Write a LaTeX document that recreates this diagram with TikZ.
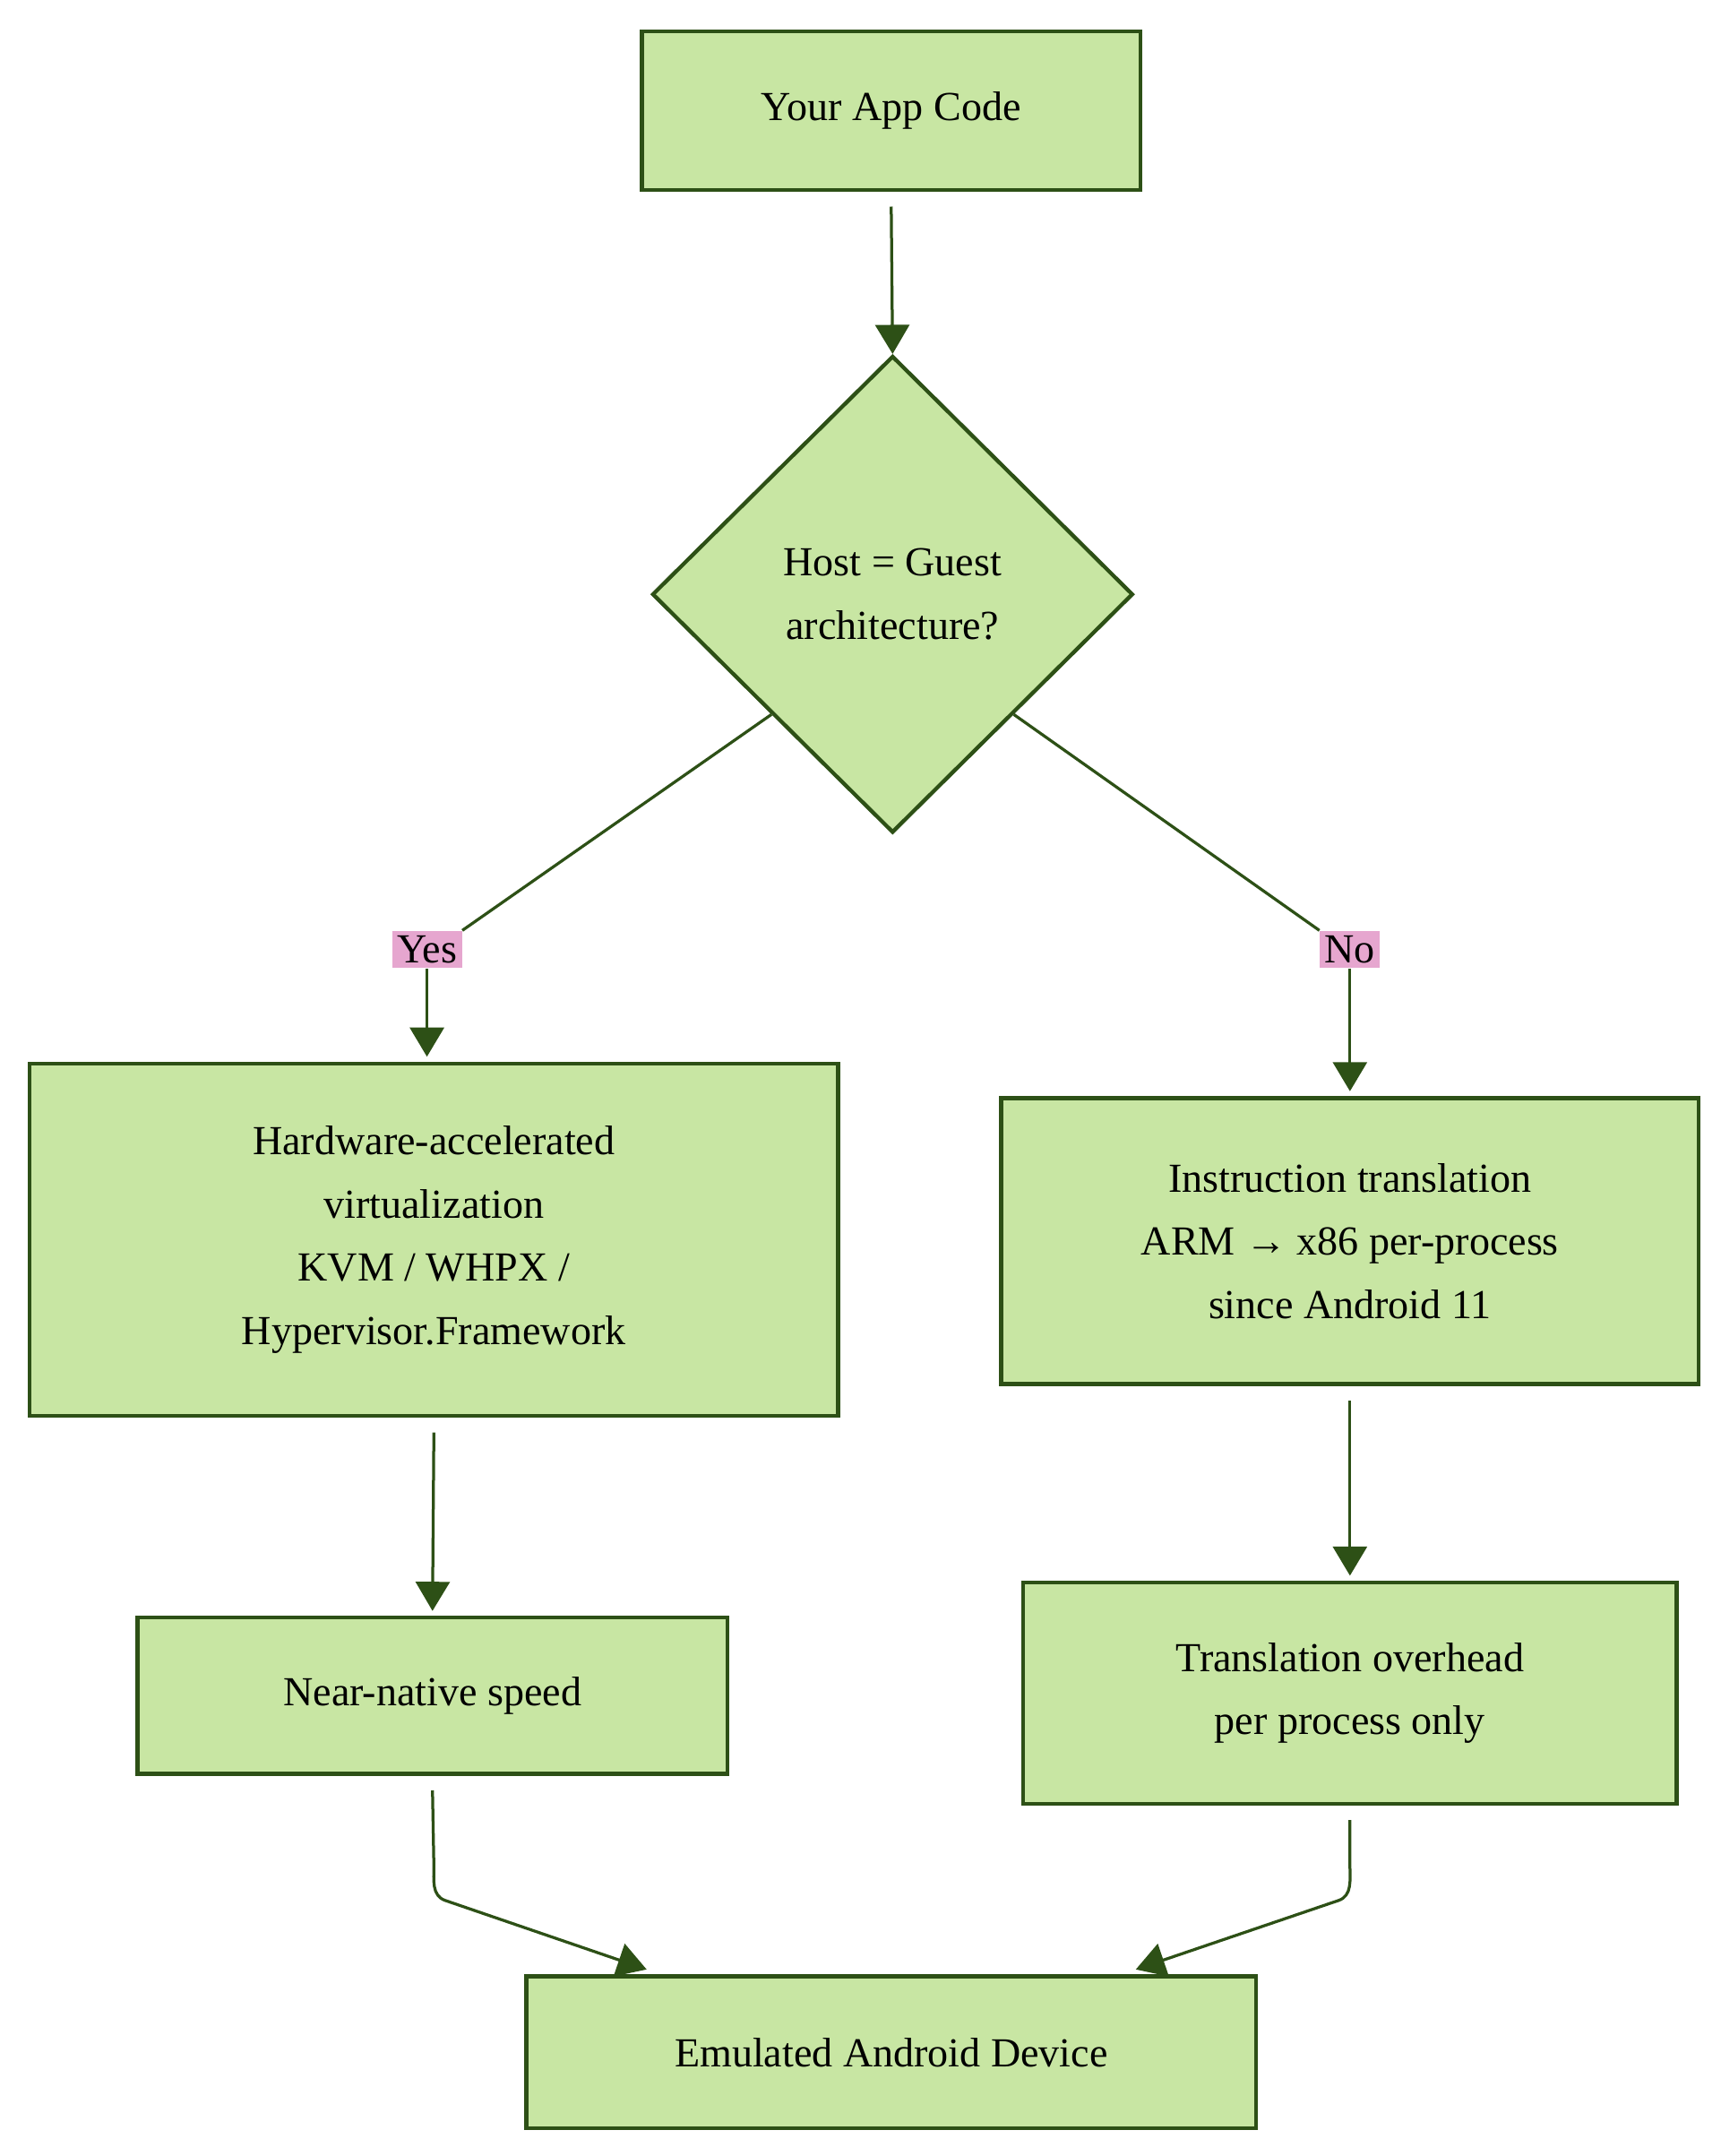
\documentclass[tikz,border=0pt]{standalone}
\usepackage{fontspec}
\setmainfont{Liberation Serif}
\usetikzlibrary{shapes.geometric,arrows.meta}
\definecolor{gfill}{HTML}{C8E6A3}
\definecolor{gline}{HTML}{2D5016}
\definecolor{pinkl}{HTML}{E6A6CF}
\begin{document}
\begin{tikzpicture}[x=0.02cm,y=-0.02cm,
  box/.style={draw=gline,line width=1.6pt,fill=gfill,align=center,font=\fontsize{17}{26}\selectfont,inner sep=0pt},
  lab/.style={fill=pinkl,font=\fontsize{17}{20}\selectfont,inner sep=2pt},
  ar/.style={draw=gline,line width=1.2pt,-{Triangle[length=12pt,width=14pt]}},
  ln/.style={draw=gline,line width=1.2pt}]
\useasboundingbox (0,0) rectangle (1245,1560);
\node[box,minimum width=361*0.02cm,minimum height=115*0.02cm] (app) at (645,80) {Your App Code};
\node[box,diamond,minimum width=348*0.02cm,minimum height=345*0.02cm] (dec) at (646,430) {Host = Guest\\architecture?};
\node[lab] (yes) at (309,687) {Yes};
\node[lab] (no) at (977,687) {No};
\node[box,minimum width=585*0.02cm,minimum height=255*0.02cm] (hw) at (314,897) {Hardware-accelerated\\virtualization\\KVM / WHPX /\\Hypervisor.Framework};
\node[box,minimum width=505*0.02cm,minimum height=207*0.02cm] (tr) at (977,898) {Instruction translation\\ARM \symbol{"2192} x86 per-process\\since Android 11};
\node[box,minimum width=427*0.02cm,minimum height=113*0.02cm] (nn) at (313,1227) {Near-native speed};
\node[box,minimum width=473*0.02cm,minimum height=160*0.02cm] (ov) at (977,1225) {Translation overhead\\per process only};
\node[box,minimum width=528*0.02cm,minimum height=110*0.02cm] (em) at (645,1485) {Emulated Android Device};
\draw[ar] ([yshift=-6pt]app.south) -- (dec.north);
\draw[ln] (dec.south west) -- (yes.north east);
\draw[ar] (yes.south) -- ([yshift=2pt]yes.south|-hw.north);
\draw[ln] (dec.south east) -- (no.north west);
\draw[ar] (no.south) -- ([yshift=2pt]tr.north);
\draw[ar] ([yshift=-6pt]hw.south) -- ([yshift=2pt]nn.north);
\draw[ar] ([yshift=-6pt]tr.south) -- ([yshift=2pt]ov.north);
\draw[ar] ([yshift=-6pt]nn.south) -- (314,1350) to[out=-90,in=160] (322,1375) -- (468,1425);
\draw[ar] ([yshift=-6pt]ov.south) -- (977,1350) to[out=-90,in=20] (969,1375) -- (822,1425);
\end{tikzpicture}
\end{document}
